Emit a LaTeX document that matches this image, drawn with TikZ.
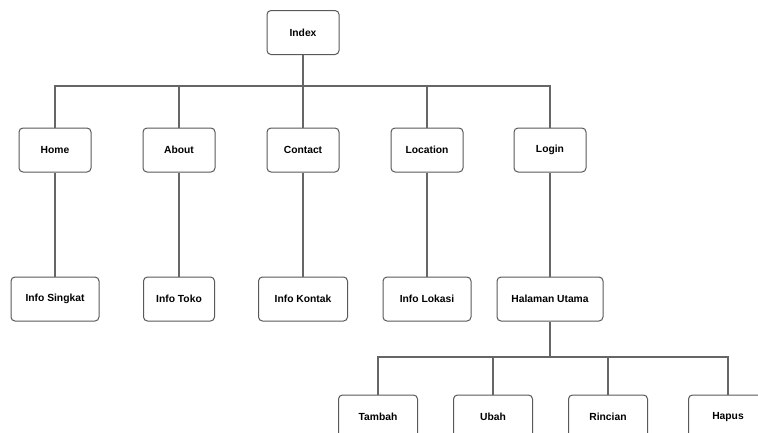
\documentclass[tikz,border=0pt]{standalone}
\usepackage{fontspec}
\setmainfont{Liberation Sans}
\begin{document}
\begin{tikzpicture}[x=1pt,y=-1pt,
  box/.style={draw=black!65, line width=1pt, rounded corners=4pt, fill=white,
    minimum height=44pt, inner sep=2pt, font=\bfseries\fontsize{10.3}{12}\selectfont},
  link/.style={draw=black!60, line width=1.1pt}]
\useasboundingbox (0,0) rectangle (758,432);
\clip (0,0) rectangle (758,432);
\node[box, minimum width=72pt] (index) at (303,32.5) {Index};
\node[box, minimum width=72pt] (home) at (55,150) {Home};
\node[box, minimum width=72pt] (about) at (179,150) {About};
\node[box, minimum width=72pt] (contact) at (303,150) {Contact};
\node[box, minimum width=72pt] (location) at (427,150) {Location};
\node[box, minimum width=72pt] (login) at (550,150) {Login};
\node[box, minimum width=88pt] (singkat) at (55,299) {Info Singkat};
\node[box, minimum width=71pt] (toko) at (179,299) {Info Toko};
\node[box, minimum width=89pt] (kontak) at (303,299) {Info Kontak};
\node[box, minimum width=88pt] (lokasi) at (427,299) {Info Lokasi};
\node[box, minimum width=106pt] (utama) at (550,299) {Halaman Utama};
\node[box, minimum width=79pt] (tambah) at (378,417) {Tambah};
\node[box, minimum width=79pt] (ubah) at (493,417) {Ubah};
\node[box, minimum width=79pt] (rincian) at (608,417) {Rincian};
\node[box, minimum width=79pt] (hapus) at (728,417) {Hapus};
\coordinate (bus1) at (303,86);
\coordinate (bus2) at (550,357);
\foreach \c in {home,about,contact,location,login}
  \draw[link] (index.south) -- (bus1) -| (\c.north);
\draw[link] (home) -- (singkat);
\draw[link] (about) -- (toko);
\draw[link] (contact) -- (kontak);
\draw[link] (location) -- (lokasi);
\draw[link] (login) -- (utama);
\foreach \c in {tambah,ubah,rincian,hapus}
  \draw[link] (utama.south) -- (bus2) -| (\c.north);
\end{tikzpicture}
\end{document}
